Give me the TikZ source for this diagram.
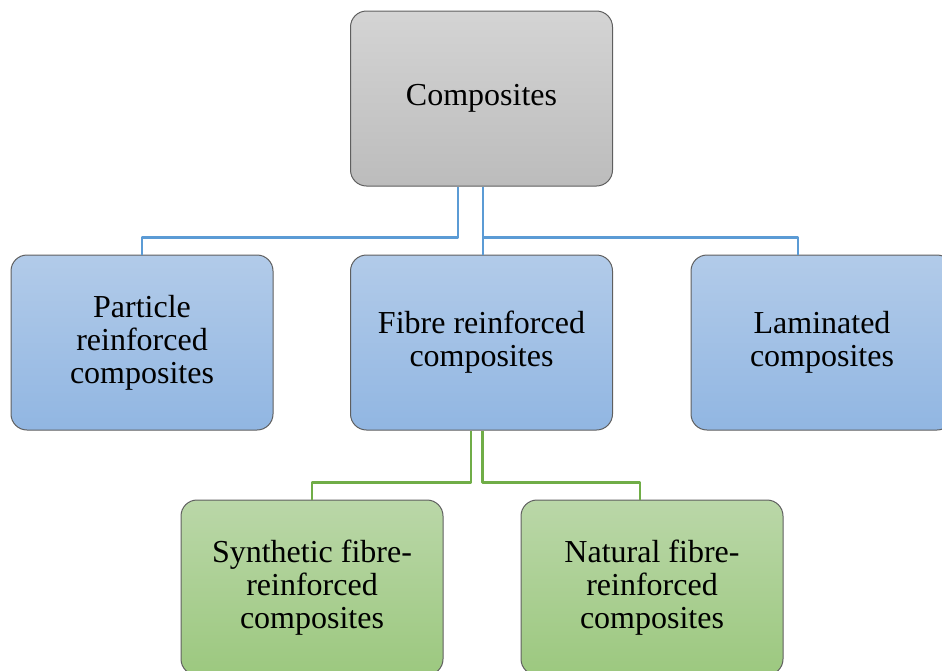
\documentclass[tikz,border=0pt]{standalone}
\usepackage{fontspec}
\setmainfont{Liberation Serif}
\definecolor{grayTop}{RGB}{212,212,212}
\definecolor{grayBot}{RGB}{188,188,188}
\definecolor{blueTop}{RGB}{178,203,233}
\definecolor{blueBot}{RGB}{145,182,226}
\definecolor{greenTop}{RGB}{186,215,168}
\definecolor{greenBot}{RGB}{156,200,127}
\definecolor{blueLine}{RGB}{91,155,213}
\definecolor{greenLine}{RGB}{112,173,71}
\definecolor{edge}{RGB}{95,95,95}
\begin{document}
\begin{tikzpicture}[x=1pt,y=1pt,line cap=round,line join=round,
	box/.style={draw=edge,line width=1pt,rounded corners=16pt,minimum width=262pt,minimum height=175pt,align=center,font=\fontsize{32}{33}\selectfont},
	graybox/.style={box,top color=grayTop,bottom color=grayBot},
	bluebox/.style={box,top color=blueTop,bottom color=blueBot},
	greenbox/.style={box,top color=greenTop,bottom color=greenBot},
	blink/.style={draw=blueLine,line width=2.5pt,line cap=butt},
	glink/.style={draw=greenLine,line width=2.5pt,line cap=butt}]
	\clip (0,0) rectangle (942,-670);
	\node[graybox] (comp) at (481.5,-98.5) {Composites};
	\node[bluebox] (part) at (142,-342.5) {Particle\\reinforced\\composites};
	\node[bluebox] (fib) at (481.5,-342.5) {Fibre reinforced\\composites};
	\node[bluebox] (lam) at (822,-342.5) {Laminated\\composites};
	\node[greenbox] (syn) at (312,-587.5) {Synthetic fibre-\\reinforced\\composites};
	\node[greenbox] (nat) at (652,-587.5) {Natural fibre-\\reinforced\\composites};
	\draw[blink] ([xshift=-23.5pt]comp.south) -- ++(0,-51) -| (part.north);
	\draw[blink] ([xshift=1.5pt]comp.south) -- ++(0,-51) -| ([xshift=-24pt]lam.north);
	\draw[blink] ([xshift=1.5pt]comp.south) -- ([xshift=1.5pt]fib.north);
	\draw[glink] ([xshift=-10.5pt]fib.south) -- ++(0,-52) -| (syn.north);
	\draw[glink] ([xshift=1pt]fib.south) -- ++(0,-52) -| ([xshift=-12pt]nat.north);
\end{tikzpicture}
\end{document}
